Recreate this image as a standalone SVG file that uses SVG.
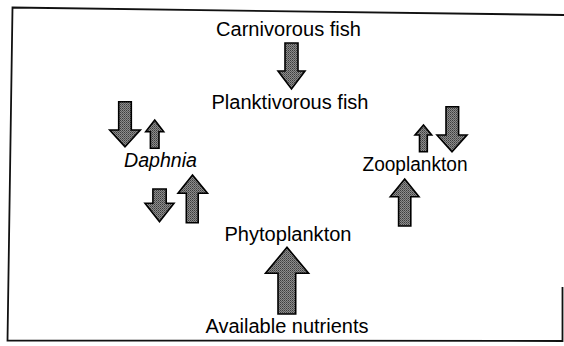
<svg xmlns="http://www.w3.org/2000/svg" width="564" height="346" viewBox="0 0 564 346">
  <defs>
    <pattern id="stip" width="2" height="2" patternUnits="userSpaceOnUse">
      <rect width="2" height="2" fill="#8c8c8c"/>
      <rect width="1" height="1" fill="#3c3c3c"/>
      <rect x="1" y="1" width="1" height="1" fill="#5a5a5a"/>
    </pattern>
  </defs>
  <style>
    .lbl { font-family: "Liberation Sans", Arial, sans-serif; font-size: 20px; fill: #000; text-anchor: middle; }
    .it { font-style: italic; }
    .arr { fill: url(#stip); stroke: #000; stroke-width: 1.6; stroke-linejoin: miter; }
    .frame { fill: none; stroke: #111; stroke-width: 1.8; }
  </style>
  <rect width="564" height="346" fill="#ffffff"/>
  <path class="frame" d="M562.5,287 L562.5,341 L7.5,340.5 L12.5,7.5 L564,15"/>

  <g id="carnivorous-fish"><text class="lbl" x="288.5" y="35.5" textLength="145" lengthAdjust="spacingAndGlyphs">Carnivorous fish</text></g>
  <g id="planktivorous-fish"><text class="lbl" x="290" y="109" textLength="157" lengthAdjust="spacingAndGlyphs">Planktivorous fish</text></g>
  <g id="daphnia"><text class="lbl it" x="160.5" y="166.5" textLength="73" lengthAdjust="spacingAndGlyphs">Daphnia</text></g>
  <g id="zooplankton"><text class="lbl" x="415" y="170.5" textLength="105" lengthAdjust="spacingAndGlyphs">Zooplankton</text></g>
  <g id="phytoplankton"><text class="lbl" x="288" y="240.5" textLength="127" lengthAdjust="spacingAndGlyphs">Phytoplankton</text></g>
  <g id="available-nutrients"><text class="lbl" x="287" y="333" textLength="163" lengthAdjust="spacingAndGlyphs">Available nutrients</text></g>

  <g id="connectors">
    <polygon class="arr" points="285,43 298,43 298,71 305,71 291.5,89 278,71 285,71"/>
    <polygon class="arr" points="118.7,101.7 131.3,101.7 131.3,130 140.3,130 125,146.7 109.7,130 118.7,130"/>
    <polygon class="arr" points="154.7,120 163.7,131.7 159,131.7 159,148.3 150.4,148.3 150.4,131.7 145.7,131.7"/>
    <polygon class="arr" points="152.9,189 166.2,189 166.2,203.3 174,203.3 159.5,221.7 145,203.3 152.9,203.3"/>
    <polygon class="arr" points="192.5,175 207.5,193.3 198.2,193.3 198.2,222.7 186.3,222.7 186.3,193.3 178,193.3"/>
    <polygon class="arr" points="423.5,125 431.7,135 427.3,135 427.3,151.7 419.5,151.7 419.5,135 415,135"/>
    <polygon class="arr" points="446,106.7 458.6,106.7 458.6,135 467,135 452,151.7 437,135 446,135"/>
    <polygon class="arr" points="404.7,179 419,196.7 410.8,196.7 410.8,226 398.6,226 398.6,196.7 390.3,196.7"/>
    <polygon class="arr" points="287,247.3 308.6,273.3 295.7,273.3 295.7,314 278,314 278,273.3 265.5,273.3"/>
  </g>
</svg>
